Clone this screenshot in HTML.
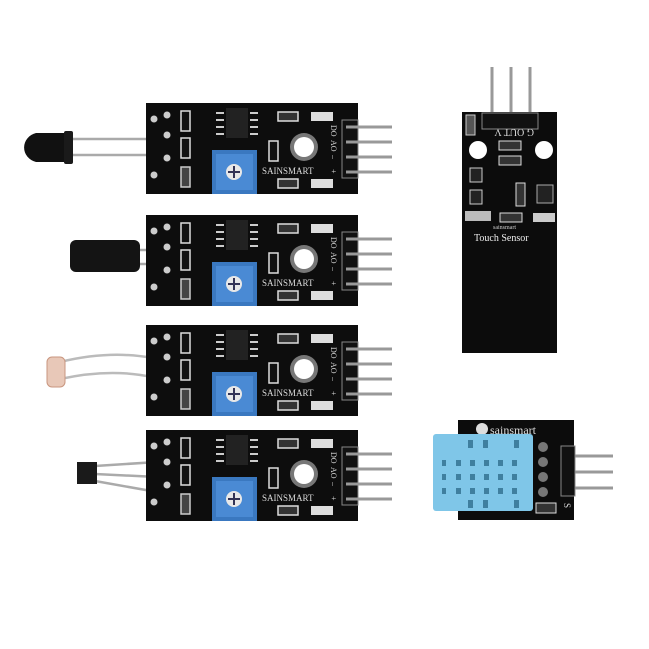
<!DOCTYPE html>
<html><head><meta charset="utf-8"><style>
html,body{margin:0;padding:0;background:#fff;}
svg{display:block;}
</style></head><body>
<svg width="649" height="649" viewBox="0 0 649 649" xmlns="http://www.w3.org/2000/svg" font-family="Liberation Serif, serif">
<defs>
<g id="brd">
  <rect x="0" y="0" width="212" height="91" fill="#0d0d0d"/>
  <circle cx="8" cy="16" r="3.5" fill="#ccc"/>
  <circle cx="21" cy="12" r="3.5" fill="#ccc"/>
  <circle cx="21" cy="55" r="3.5" fill="#ccc"/>
  <circle cx="8" cy="72" r="3.5" fill="#ccc"/>
  <circle cx="21" cy="32" r="3.5" fill="#ccc"/>
  <rect x="35" y="8" width="9" height="20" fill="#111" stroke="#ddd" stroke-width="1.5"/>
  <rect x="35" y="35" width="9" height="20" fill="#111" stroke="#ddd" stroke-width="1.5"/>
  <rect x="35" y="64" width="9" height="20" fill="#444" stroke="#ccc" stroke-width="1.5"/>
  <rect x="80" y="5" width="22" height="30" fill="#222"/>
  <g stroke="#ccc" stroke-width="2">
    <line x1="70" y1="10" x2="78" y2="10"/><line x1="70" y1="17" x2="78" y2="17"/><line x1="70" y1="24" x2="78" y2="24"/><line x1="70" y1="31" x2="78" y2="31"/>
    <line x1="104" y1="10" x2="112" y2="10"/><line x1="104" y1="17" x2="112" y2="17"/><line x1="104" y1="24" x2="112" y2="24"/><line x1="104" y1="31" x2="112" y2="31"/>
  </g>
  <rect x="132" y="9" width="20" height="9" fill="#333" stroke="#ddd" stroke-width="1.5"/>
  <rect x="165" y="9" width="22" height="9" fill="#ddd"/>
  <rect x="123" y="38" width="9" height="20" fill="#111" stroke="#ddd" stroke-width="1.5"/>
  <rect x="66" y="47" width="45" height="44" fill="#3a78c0"/>
  <rect x="70" y="51" width="37" height="36" fill="#4a8ad4"/>
  <circle cx="88" cy="69" r="8" fill="#e8e8e8"/>
  <path d="M88 63v12M82 69h12" stroke="#335" stroke-width="2"/>
  <circle cx="158" cy="44" r="14" fill="#777"/>
  <circle cx="158" cy="44" r="10" fill="#fff"/>
  <text x="116" y="71" font-size="9" fill="#ddd">SAINSMART</text>
  <rect x="132" y="76" width="20" height="9" fill="#333" stroke="#ddd" stroke-width="1.5"/>
  <rect x="165" y="76" width="22" height="9" fill="#ddd"/>
  <g fill="#ddd" font-size="8" transform="rotate(90)">
    <text x="22" y="-185">DO</text><text x="37" y="-185">AO</text><text x="52" y="-185">–</text><text x="66" y="-185">+</text>
  </g>
  <rect x="196" y="17" width="16" height="58" fill="#111" stroke="#888" stroke-width="1"/>
  <g stroke="#999" stroke-width="3">
    <line x1="200" y1="24" x2="246" y2="24"/><line x1="200" y1="39" x2="246" y2="39"/>
    <line x1="200" y1="54" x2="246" y2="54"/><line x1="200" y1="69" x2="246" y2="69"/>
  </g>
</g>
</defs>

<g stroke="#aaa" stroke-width="2.5"><line x1="70" y1="139" x2="152" y2="139"/><line x1="70" y1="155" x2="152" y2="155"/></g>
<path d="M36 133 H66 V162 H36 A16 15 0 0 1 36 133 Z" fill="#111"/>
<rect x="64" y="131" width="9" height="33" rx="2" fill="#1a1a1a"/>
<use href="#brd" x="146" y="103"/>

<g stroke="#aaa" stroke-width="2.5"><line x1="138" y1="250" x2="153" y2="250"/><line x1="138" y1="264" x2="153" y2="264"/></g>
<rect x="70" y="240" width="70" height="32" rx="6" fill="#141414"/>
<use href="#brd" x="146" y="215"/>

<g stroke="#bbb" stroke-width="2.5" fill="none"><path d="M60 362 Q110 350 152 358"/><path d="M60 379 Q110 368 152 377"/></g>
<rect x="47" y="357" width="18" height="30" rx="5" fill="#e8c8b8" stroke="#c9967f"/>
<use href="#brd" x="146" y="325"/>

<g stroke="#aaa" stroke-width="2.5"><line x1="95" y1="466" x2="157" y2="462"/><line x1="95" y1="474" x2="157" y2="477"/><line x1="95" y1="481" x2="157" y2="492"/></g>
<rect x="77" y="462" width="20" height="22" fill="#1a1a1a"/>
<use href="#brd" x="146" y="430"/>

<g stroke="#999" stroke-width="3"><line x1="492" y1="67" x2="492" y2="125"/><line x1="511" y1="67" x2="511" y2="125"/><line x1="530" y1="67" x2="530" y2="125"/></g>
<rect x="462" y="112" width="95" height="241" fill="#0c0c0c"/>
<rect x="482" y="113" width="56" height="16" fill="#111" stroke="#888"/>
<rect x="466" y="115" width="9" height="20" fill="#555" stroke="#ccc"/>
<text x="482" y="135" font-size="10" fill="#ddd" transform="rotate(180 508 132)">G OUT V</text>
<circle cx="478" cy="150" r="9" fill="#fff"/>
<circle cx="544" cy="150" r="9" fill="#fff"/>
<rect x="499" y="141" width="22" height="9" fill="#333" stroke="#ddd"/>
<rect x="499" y="156" width="22" height="9" fill="#333" stroke="#ddd"/>
<rect x="470" y="168" width="12" height="14" fill="#222" stroke="#ccc"/>
<rect x="470" y="190" width="12" height="14" fill="#222" stroke="#ccc"/>
<rect x="516" y="183" width="9" height="23" fill="#333" stroke="#ddd"/>
<rect x="537" y="185" width="16" height="18" fill="#222" stroke="#aaa"/>
<rect x="465" y="211" width="26" height="10" fill="#bbb"/>
<rect x="500" y="213" width="22" height="9" fill="#333" stroke="#ddd"/>
<rect x="533" y="213" width="22" height="9" fill="#ccc"/>
<text x="493" y="229" font-size="6" fill="#ccc">sainsmart</text>
<text x="474" y="241" font-size="10" fill="#eee">Touch Sensor</text>

<g stroke="#999" stroke-width="3"><line x1="565" y1="456" x2="613" y2="456"/><line x1="565" y1="472" x2="613" y2="472"/><line x1="565" y1="488" x2="613" y2="488"/></g>
<rect x="458" y="420" width="116" height="100" fill="#0c0c0c"/>
<rect x="561" y="446" width="14" height="50" fill="#111" stroke="#888"/>
<circle cx="482" cy="429" r="6" fill="#ddd"/>
<text x="490" y="434" font-size="12" fill="#ddd">sainsmart</text>
<circle cx="543" cy="447" r="5" fill="#777"/>
<circle cx="543" cy="462" r="5" fill="#777"/>
<circle cx="543" cy="477" r="5" fill="#777"/>
<circle cx="543" cy="492" r="5" fill="#777"/>
<rect x="536" y="503" width="20" height="10" fill="#333" stroke="#ddd"/>
<text x="563" y="510" font-size="9" fill="#ddd" transform="rotate(90 567 507)">S</text>
<rect x="433" y="434" width="100" height="77" rx="3" fill="#7fc6e8"/>
<g fill="#3f7f9f">
  <rect x="442" y="460" width="4" height="6"/><rect x="456" y="460" width="5" height="6"/><rect x="470" y="460" width="5" height="6"/><rect x="484" y="460" width="5" height="6"/><rect x="498" y="460" width="5" height="6"/><rect x="512" y="460" width="5" height="6"/>
  <rect x="442" y="474" width="4" height="6"/><rect x="456" y="474" width="5" height="6"/><rect x="470" y="474" width="5" height="6"/><rect x="484" y="474" width="5" height="6"/><rect x="498" y="474" width="5" height="6"/><rect x="512" y="474" width="5" height="6"/>
  <rect x="442" y="488" width="4" height="6"/><rect x="456" y="488" width="5" height="6"/><rect x="470" y="488" width="5" height="6"/><rect x="484" y="488" width="5" height="6"/><rect x="498" y="488" width="5" height="6"/><rect x="512" y="488" width="5" height="6"/>
  <rect x="468" y="440" width="5" height="8"/><rect x="483" y="440" width="5" height="8"/><rect x="514" y="440" width="5" height="8"/>
  <rect x="468" y="500" width="5" height="8"/><rect x="483" y="500" width="5" height="8"/><rect x="514" y="500" width="5" height="8"/>
</g>
</svg>
</body></html>
